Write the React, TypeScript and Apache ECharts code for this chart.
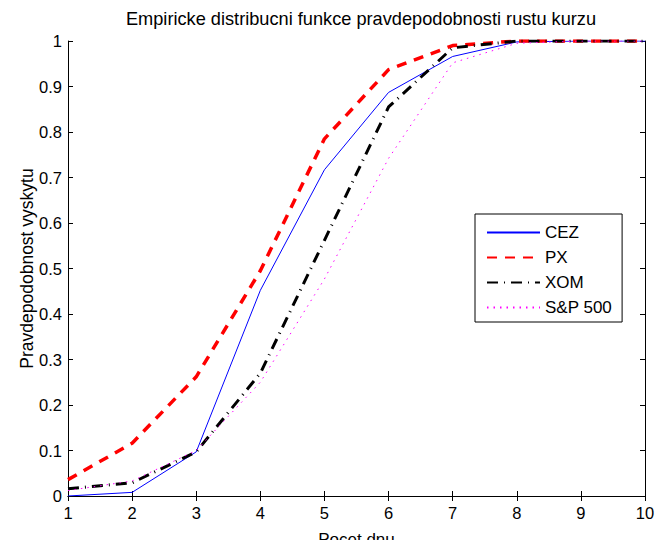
import React, { useEffect, useRef } from "react";
import * as echarts from "echarts";

const days = [1, 2, 3, 4, 5, 6, 7, 8, 9, 10];
const cez = [0.0, 0.008, 0.097, 0.452, 0.717, 0.887, 0.966, 0.998, 1.0, 1.0];
const px = [0.036, 0.116, 0.262, 0.495, 0.785, 0.937, 0.99, 1.0, 1.0, 1.0];
const xom = [0.016, 0.029, 0.097, 0.27, 0.562, 0.855, 0.985, 1.0, 1.0, 1.0];
const sp500 = [0.012, 0.033, 0.1, 0.25, 0.477, 0.742, 0.952, 0.995, 1.0, 1.0];

const titleText = "Empiricke distribucni funkce pravdepodobnosti rustu kurzu";
const xName = "Pocet dnu";
const yName = "Pravdepodobnost vyskytu";

const toPairs = (vals: number[]) => days.map((d, i) => [d, vals[i]]);

const FONT = "'Liberation Sans', Arial, Helvetica, sans-serif";

export default function App() {
  const ref = useRef<HTMLDivElement>(null);
  useEffect(() => {
    if (!ref.current) return;
    const chart = echarts.init(ref.current, undefined, { renderer: "svg" });
    const axisLine = { show: true, lineStyle: { color: "#000", width: 1 } };
    const axisTick = { show: true, inside: true, length: 5, lineStyle: { color: "#000", width: 1 } };
    chart.setOption({
      animation: false,
      backgroundColor: "#fff",
      textStyle: { fontFamily: FONT },
      title: {
        text: titleText,
        left: 356,
        textAlign: "center",
        top: 5,
        textStyle: { fontSize: 18.2, fontWeight: "normal", color: "#000", fontFamily: FONT },
      },
      grid: {
        left: 68,
        right: 13,
        top: 41,
        bottom: 44,
        containLabel: false,
        outerBoundsMode: "none",
      },
      legend: {
        orient: "vertical",
        left: 475,
        top: 214,
        padding: [10, 10, 6, 11],
        itemWidth: 53,
        itemHeight: 14,
        itemGap: 8,
        borderColor: "#000",
        borderWidth: 1,
        backgroundColor: "#fff",
        itemStyle: { opacity: 0 },
        textStyle: { fontSize: 17, color: "#000", fontFamily: FONT },
        data: ["CEZ", "PX", "XOM", "S&P 500"],
      },
      xAxis: [
        {
          type: "value",
          min: 1,
          max: 10,
          interval: 1,
          name: xName,
          nameLocation: "middle",
          nameGap: 34,
          nameMoveOverlap: false,
          nameTextStyle: {
            fontSize: 17,
            color: "#000",
            fontFamily: FONT,
            lineHeight: 18,
          },
          axisLine,
          axisTick,
          splitLine: { show: false },
          axisLabel: { fontSize: 16.5, color: "#000", margin: 8, fontFamily: FONT },
        },
        {
          type: "value",
          position: "top",
          min: 1,
          max: 10,
          interval: 1,
          axisLine,
          axisTick,
          splitLine: { show: false },
          axisLabel: { show: false },
        },
      ],
      yAxis: [
        {
          type: "value",
          min: 0,
          max: 1,
          interval: 0.1,
          name: yName,
          nameLocation: "middle",
          nameGap: 32,
          nameMoveOverlap: false,
          nameTextStyle: { fontSize: 17.5, color: "#000", fontFamily: FONT },
          axisLine,
          axisTick,
          splitLine: { show: false },
          axisLabel: { fontSize: 16.5, color: "#000", margin: 6, fontFamily: FONT },
        },
        {
          type: "value",
          position: "right",
          min: 0,
          max: 1,
          interval: 0.1,
          axisLine,
          axisTick,
          splitLine: { show: false },
          axisLabel: { show: false },
        },
      ],
      series: [
        {
          name: "CEZ",
          type: "line",
          data: toPairs(cez),
          symbol: "none",
          color: "#0000ff",
          lineStyle: { color: "#0000ff", width: 1, type: "solid" },
        },
        {
          name: "PX",
          type: "line",
          data: toPairs(px),
          symbol: "none",
          color: "#ff0000",
          lineStyle: { color: "#ff0000", width: 3.5, type: [10, 8] },
        },
        {
          name: "XOM",
          type: "line",
          data: toPairs(xom),
          symbol: "none",
          color: "#000000",
          lineStyle: { color: "#000000", width: 3, type: [11, 6, 1, 6] },
        },
        {
          name: "S&P 500",
          type: "line",
          data: toPairs(sp500),
          symbol: "none",
          color: "#ff00ff",
          lineStyle: { color: "#ff00ff", width: 1, type: [1.5, 5] },
        },
      ],
    });
    return () => chart.dispose();
  }, []);
  return <div ref={ref} style={{ width: 658, height: 540, position: "absolute", left: 0, top: 0 }} />;
}
